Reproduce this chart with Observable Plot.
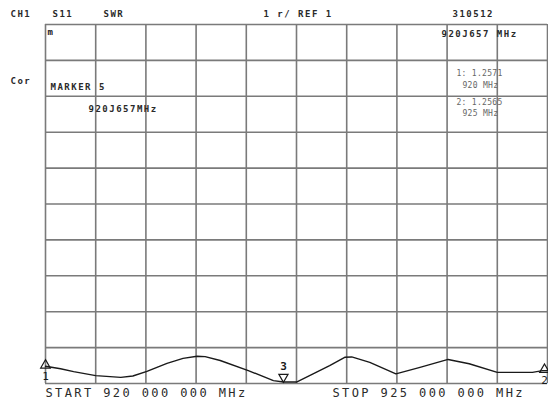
<!DOCTYPE html>
<html><head><meta charset="utf-8">
<script src="https://cdn.jsdelivr.net/npm/d3@7"></script>
<script src="https://cdn.jsdelivr.net/npm/@observablehq/plot@0.6"></script>
<style>body{margin:0;background:#fff}</style>
</head><body><div id="chart"></div>
<script>
// Trace: frequency (MHz) and SWR
const freqMHz = [920.00,920.15,920.28,920.50,920.75,920.87,921.01,921.21,921.37,921.51,921.59,921.74,922.02,922.27,922.37,922.50,922.63,922.83,922.98,923.05,923.23,923.49,923.73,924.01,924.22,924.50,924.85,924.95,925.00];
const swr     = [1.48,1.41,1.33,1.22,1.17,1.21,1.34,1.56,1.70,1.76,1.75,1.64,1.36,1.08,1.04,1.04,1.22,1.50,1.73,1.74,1.59,1.27,1.45,1.67,1.55,1.31,1.31,1.36,1.36];
// Graticule
const xGrid = [920,920.5,921,921.5,922,922.5,923,923.5,924,924.5,925];
const yGrid = [1,2,3,4,5,6,7,8,9,10,11];
// Markers
const markerNames = ["1","3","2"];
const markerFreq  = [920.00, 922.37, 924.97];
const markerSWR   = [1.48, 1.04, 1.36];
// Instrument text
const headerTexts = ["CH1","S11","SWR","1 r/ REF 1","310512"];
const markerReadouts = ["1: 1.2571","920 MHz","2: 1.2565","925 MHz"];
const startLabel = "START 920 000 000 MHz";
const stopLabel  = "STOP 925 000 000 MHz";

const trace = freqMHz.map((f,i)=>({f, v: swr[i]}));
const markers = markerNames.map((n,i)=>({n, f: markerFreq[i], v: markerSWR[i]}));
const upMarkers = markers.filter(d=>d.n!=="3");
const downMarkers = markers.filter(d=>d.n==="3");

const FONT = "DejaVu Sans Mono";
function label(t, dx, dy, size, fill="#2a2a2a", anchor="top-left", weight="bold") {
  return Plot.text([t], {frameAnchor: anchor, text: d=>d, dx, dy, textAnchor: "start",
    lineAnchor: "middle", fontFamily: FONT, fontSize: size, fill, fontWeight: weight});
}

const chart = Plot.plot({
  width: 548, height: 410,
  marginLeft: 45, marginRight: 1, marginTop: 24, marginBottom: 27,
  x: {domain: [920, 925], axis: null},
  y: {domain: [1, 11], axis: null},
  style: {background: "#fff", overflow: "visible"},
  marks: [
    Plot.ruleX(xGrid, {stroke: "#7a7a7a", strokeWidth: 1.6}),
    Plot.ruleY(yGrid, {stroke: "#7a7a7a", strokeWidth: 1.6}),
    Plot.line(trace, {x: "f", y: "v", stroke: "#1a1a1a", strokeWidth: 1.4}),
    // markers 1 and 2: triangle above, number below
    Plot.dot(upMarkers, {x:"f", y:"v", symbol: "triangle", r: 3.6, dy: -1, stroke:"#1a1a1a", strokeWidth: 1.2, fill: "none"}),
    Plot.text(upMarkers, {x:"f", y:"v", text: "n", dy: 10, fontSize: 11, fontFamily: FONT, fill:"#1a1a1a"}),
    // marker 3: number above, triangle pointing down
    Plot.text(downMarkers, {x:"f", y:"v", text: "n", dy: -16, fontSize: 11, fontFamily: FONT, fill:"#1a1a1a", fontWeight: "bold"}),
    Plot.dot(downMarkers, {x:"f", y:"v", symbol: "triangle", r: 3.4, dy: -5, rotate: 180, stroke:"#1a1a1a", strokeWidth: 1.2, fill: "none"}),
    // header
    label(headerTexts[0], -35, -10, 9),
    label(headerTexts[1], 7, -10, 9),
    label(headerTexts[2], 58, -10, 9),
    label(headerTexts[3], 218, -10, 9),
    label(headerTexts[4], 407, -10, 9),
    label("m", 2, 8, 9, "#1a1a1a"),
    label("920J657 MHz", 396, 10, 9),
    label("Cor", -35, 57, 9),
    label("MARKER 5", 5, 63, 9),
    label("920J657MHz", 43, 85, 9),
    label(markerReadouts[0], 411, 49, 8, "#666", "top-left", "normal"),
    label(markerReadouts[1], 417, 61, 8, "#666", "top-left", "normal"),
    label(markerReadouts[2], 411, 78, 8, "#666", "top-left", "normal"),
    label(markerReadouts[3], 417, 89, 8, "#666", "top-left", "normal"),
    label(startLabel, 0, 10, 12, "#2a2a2a", "bottom-left", "normal"),
    label(stopLabel, 287, 10, 12, "#2a2a2a", "bottom-left", "normal")
  ]
});
// instrument-like letter spacing by font size (labels only)
d3.select(chart).selectAll("g[font-size]").each(function(){
  const fs = +this.getAttribute("font-size");
  const t = this.querySelector("text");
  if (!t || /^[123]$/.test(t.textContent)) return;
  const ls = fs >= 12 ? 2.4 : fs >= 9 ? 1.5 : 0.3;
  this.setAttribute("letter-spacing", ls);
});
document.getElementById("chart").appendChild(chart);
</script>
</body></html>
